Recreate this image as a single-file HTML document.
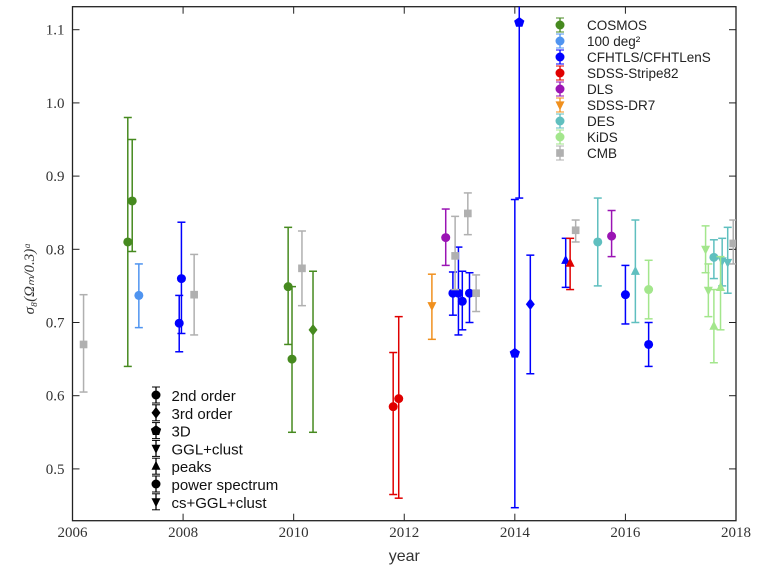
<!DOCTYPE html>
<html><head><meta charset="utf-8"><style>
body{margin:0;background:#fff;}
svg{display:block;font-family:"Liberation Sans",sans-serif;}
</style></head><body>
<svg id="chart" width="768" height="584">
<g id="grid"></g>
<g id="marks"></g>
<g id="legend1"></g>
<g id="legend2"></g>
</svg>
<script>
const NS="http://www.w3.org/2000/svg";
const xTicks=[2006,2008,2010,2012,2014,2016,2018];
const yTicks=[0.5,0.6,0.7,0.8,0.9,1.0,1.1];
const yTickLabels=["0.5","0.6","0.7","0.8","0.9","1.0","1.1"];
const surveyNames=["COSMOS","100 deg²","CFHTLS/CFHTLenS","SDSS-Stripe82","DLS","SDSS-DR7","DES","KiDS","CMB"];
const surveyColors=["#468a1f","#4f94f0","#0000ff","#e00000","#9a14b4","#f0901e","#5fbfbf","#a3e68c","#b0b0b0"];
const methodNames=["2nd order","3rd order","3D","GGL+clust","peaks","power spectrum","cs+GGL+clust"];
const methodShapes=["circle","diamond","pentagon","tridown","triup","circle","tridown"];
// [year, value, low, high, surveyIndex, shape]
const cosmos=[[2007.0,0.81,0.64,0.98,0,"circle"],[2007.08,0.866,0.797,0.95,0,"circle"],[2009.9,0.749,0.67,0.83,0,"circle"],[2009.97,0.65,0.55,0.749,0,"circle"],[2010.35,0.69,0.55,0.77,0,"diamond"]];
const deg100=[[2007.2,0.737,0.693,0.78,1,"circle"]];
const cfht=[[2007.93,0.699,0.66,0.737,2,"circle"],[2007.97,0.76,0.685,0.837,2,"circle"],[2012.88,0.74,0.71,0.769,2,"circle"],[2012.98,0.74,0.683,0.803,2,"circle"],[2013.05,0.729,0.69,0.77,2,"circle"],[2013.18,0.74,0.70,0.768,2,"circle"],[2014.0,0.658,0.447,0.868,2,"pentagon"],[2014.08,1.11,0.87,1.35,2,"pentagon"],[2014.28,0.725,0.63,0.792,2,"diamond"],[2014.92,0.785,0.748,0.815,2,"triup"],[2016.0,0.738,0.698,0.778,2,"circle"],[2016.42,0.67,0.64,0.70,2,"circle"]];
const stripe82=[[2011.8,0.585,0.465,0.659,3,"circle"],[2011.9,0.596,0.46,0.708,3,"circle"],[2015.0,0.781,0.745,0.815,3,"triup"]];
const dls=[[2012.75,0.816,0.778,0.855,4,"circle"],[2015.75,0.818,0.79,0.853,4,"circle"]];
const dr7=[[2012.5,0.723,0.677,0.766,5,"tridown"]];
const des=[[2015.5,0.81,0.75,0.87,6,"circle"],[2016.18,0.77,0.70,0.84,6,"triup"],[2017.6,0.789,0.76,0.813,6,"circle"],[2017.75,0.784,0.75,0.815,6,"tridown"],[2017.85,0.782,0.74,0.83,6,"tridown"]];
const kids=[[2016.42,0.745,0.705,0.785,7,"circle"],[2017.45,0.80,0.768,0.832,7,"tridown"],[2017.5,0.744,0.708,0.78,7,"tridown"],[2017.6,0.695,0.645,0.745,7,"triup"],[2017.72,0.748,0.69,0.79,7,"triup"]];
const cmb=[[2006.2,0.67,0.605,0.738,8,"square"],[2008.2,0.738,0.683,0.793,8,"square"],[2010.15,0.774,0.723,0.825,8,"square"],[2012.92,0.791,0.745,0.845,8,"square"],[2013.15,0.849,0.82,0.877,8,"square"],[2013.3,0.74,0.715,0.765,8,"square"],[2015.1,0.826,0.81,0.84,8,"square"],[2017.95,0.808,0.78,0.84,8,"square"]];

const L=72.5,R=736,T=6.7,B=520.7;
const X=yr=>L+(yr-2006)*(R-L)/12;
const Y=v=>29.7+(1.1-v)*732;
function el(tag,attrs,parent){const e=document.createElementNS(NS,tag);for(const k in attrs)e.setAttribute(k,attrs[k]);parent.appendChild(e);return e;}
const svg=document.getElementById('chart');
const grid=document.getElementById('grid');
const marks=document.getElementById('marks');

function marker(shape,cx,cy,r,color,parent){
  let e;
  if(shape==="circle"){e=el('circle',{cx:cx,cy:cy,r:r,fill:color},parent);}
  else if(shape==="square"){e=el('rect',{x:cx-r*0.85,y:cy-r*0.85,width:r*1.7,height:r*1.7,fill:color},parent);}
  else if(shape==="diamond"){e=el('polygon',{points:`${cx},${cy-r*1.3} ${cx+r},${cy} ${cx},${cy+r*1.3} ${cx-r},${cy}`,fill:color},parent);}
  else if(shape==="pentagon"){let p=[];for(let i=0;i<5;i++){const a=-Math.PI/2+i*2*Math.PI/5;p.push((cx+r*1.2*Math.cos(a))+","+(cy+r*1.2*Math.sin(a)));}e=el('polygon',{points:p.join(' '),fill:color},parent);}
  else if(shape==="triup"){e=el('polygon',{points:`${cx},${cy-r*1.2} ${cx+r},${cy+r*0.8} ${cx-r},${cy+r*0.8}`,fill:color},parent);}
  else {e=el('polygon',{points:`${cx},${cy+r*1.2} ${cx+r},${cy-r*0.8} ${cx-r},${cy-r*0.8}`,fill:color},parent);}
  return e;
}

// clip
const defs=el('defs',{},svg);
const cp=el('clipPath',{id:'clip'},defs);
el('rect',{x:L,y:T,width:R-L,height:B-T},cp);
marks.setAttribute('clip-path','url(#clip)');

// axes frame + ticks
const frame=el('rect',{x:L,y:T,width:R-L,height:B-T,fill:'none',stroke:'#222','stroke-width':1.3},grid);


xTicks.forEach(t=>{
  const x=X(t);
  el('line',{x1:x,x2:x,y1:B,y2:B-7,stroke:'#222'},grid);
  el('line',{x1:x,x2:x,y1:T,y2:T+7,stroke:'#222'},grid);
  const tx=el('text',{x:x,y:537,'text-anchor':'middle','font-size':15,'font-family':'"Liberation Serif",serif',fill:'#333'},grid);
  tx.textContent=t;
  
  
});
yTicks.forEach((t,i)=>{
  const y=Y(t);
  el('line',{x1:L,x2:L+7,y1:y,y2:y,stroke:'#222'},grid);
  el('line',{x1:R,x2:R-7,y1:y,y2:y,stroke:'#222'},grid);
  const tx=el('text',{x:L-8,y:y+5,'text-anchor':'end','font-size':15,'font-family':'"Liberation Serif",serif',fill:'#333'},grid);
  tx.textContent=yTickLabels[i];
  
  
});
const xt=el('text',{x:(L+R)/2,y:561,'text-anchor':'middle','font-size':16,fill:'#333'},grid);
xt.textContent='year';


const yt=el('text',{x:0,y:0,'text-anchor':'middle','font-size':15,'font-family':'"Liberation Serif",serif','font-style':'italic',fill:'#333',transform:`translate(34,${Y(0.76)}) rotate(-90)`},grid);
yt.textContent='σ₈(Ωₘ/0.3)ᵅ';



// series
const allSeries=[cosmos,deg100,cfht,stripe82,dls,dr7,des,kids,cmb];
const seriesNames=["cosmos","100deg","cfhtls","stripe82","dls","sdss-dr7","des","kids","cmb"];
allSeries.forEach((s,si)=>{
  const g=el('g',{},marks);
  
  
  s.forEach(d=>{
    const c=surveyColors[d[4]];
    const x=X(d[0]);
    const eb=el('g',{},g);
    
    
    el('line',{x1:x,x2:x,y1:Y(d[2]),y2:Y(d[3]),stroke:c,'stroke-width':1.5},eb);
    el('line',{x1:x-4,x2:x+4,y1:Y(d[2]),y2:Y(d[2]),stroke:c,'stroke-width':1.5},eb);
    el('line',{x1:x-4,x2:x+4,y1:Y(d[3]),y2:Y(d[3]),stroke:c,'stroke-width':1.5},eb);
    const m=marker(d[5],x,Y(d[1]),4.5,c,g);
    
    
  });
});

// survey legend
const lg1=document.getElementById('legend1');


surveyNames.forEach((n,i)=>{
  const y=25+i*16;
  const c=surveyColors[i];
  const g=el('g',{},lg1);
  
  
  el('line',{x1:560,x2:560,y1:y-7,y2:y+7,stroke:c,'stroke-width':1.3},g);
  el('line',{x1:556,x2:564,y1:y-7,y2:y-7,stroke:c},g);
  el('line',{x1:556,x2:564,y1:y+7,y2:y+7,stroke:c},g);
  marker(i===5?"tridown":(i===8?"square":"circle"),560,y,4.5,c,g);
  const t=el('text',{x:587,y:y+5,'font-size':13.5,fill:'#222'},g);
  t.textContent=n;
});

// method legend
const lg2=document.getElementById('legend2');


methodNames.forEach((n,i)=>{
  const y=395+i*17.8;
  const g=el('g',{},lg2);
  
  
  el('line',{x1:156,x2:156,y1:y-8,y2:y+8,stroke:'#000','stroke-width':1.3},g);
  el('line',{x1:152,x2:160,y1:y-8,y2:y-8,stroke:'#000'},g);
  el('line',{x1:152,x2:160,y1:y+8,y2:y+8,stroke:'#000'},g);
  marker(methodShapes[i],156,y,4.5,'#000',g);
  const t=el('text',{x:171.5,y:y+6,'font-size':15,fill:'#111'},g);
  t.textContent=n;
});
</script>
</body></html>
